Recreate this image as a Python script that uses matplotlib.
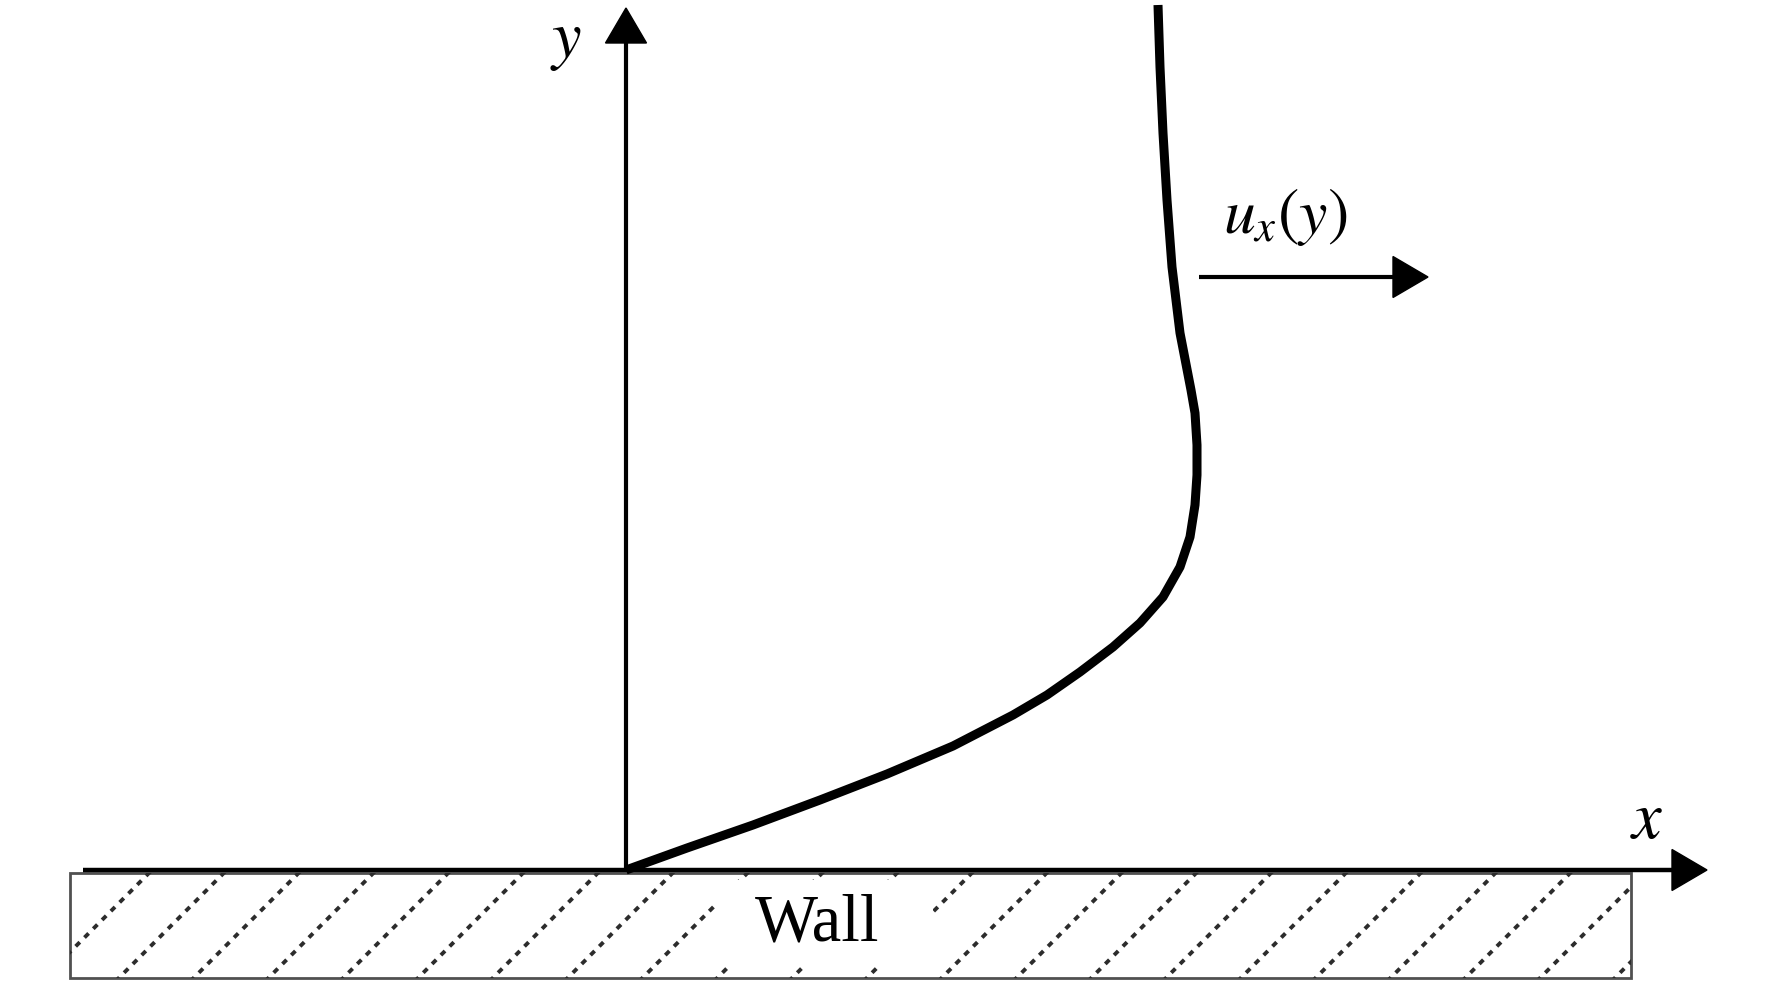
import matplotlib
matplotlib.use("Agg")
import matplotlib.pyplot as plt
from matplotlib.patches import Rectangle

plt.rcParams['mathtext.fontset'] = 'stix'

# ---- data: velocity profile u_x(y) (units: pixels relative to origin) ----
profile_y = [0, 22, 45, 70, 96, 124, 155, 175, 198, 223, 247, 273, 303, 333,
             365, 395, 425, 457, 480, 537, 603, 670, 737, 803, 865]
profile_u = [0, 61, 127, 194, 261, 327, 387, 421, 454, 487, 514, 537, 554, 564,
             569, 571, 571, 569, 565, 554, 546, 541, 537, 534, 532]

wall_label = "Wall"
x_label = r"$x$"
y_label = r"$y$"
u_label = r"$u_x(y)$"

# ---- layout ----
W, H = 1772, 982
ox, oy = 626, 870  # origin in image pixels
fig = plt.figure(figsize=(W / 100, H / 100), dpi=100)
ax = fig.add_axes([0, 0, 1, 1])
ax.set_xlim(-ox, W - ox)
ax.set_ylim(-(H - oy), oy)
ax.axis('off')

# wall rectangle
wall_left, wall_right = 70 - ox, 1631 - ox
wall_top, wall_bot = -3, -108
wall = Rectangle((wall_left, wall_bot), wall_right - wall_left, wall_top - wall_bot,
                 facecolor='white', edgecolor='#505050', linewidth=2.0, zorder=2)
ax.add_patch(wall)

# hatch lines (45 deg, dashed)
hatch_start, hatch_step = -477, 74.8
depth = wall_top - wall_bot
k = 0
while True:
    xt = hatch_start + k * hatch_step
    if xt - depth > wall_right:
        break
    ln, = ax.plot([xt + 10, xt - depth - 10], [wall_top + 10, wall_bot - 10],
                  color='#2c2c2c', linewidth=2.8, linestyle=(0, (1.5, 1.7)),
                  zorder=3, dash_capstyle='butt')
    ln.set_clip_path(wall)
    k += 1

# white box behind the label
ax.add_patch(Rectangle((715 - ox, -96), 218, 86, facecolor='white',
                       edgecolor='none', zorder=4))
ax.text(817.5 - ox, -70, wall_label, ha='center', va='baseline',
        fontfamily='Liberation Serif', fontsize=48, zorder=5)

# x axis
ax.plot([83 - ox, 1680 - ox], [0, 0], color='black', linewidth=3.2,
        solid_capstyle='butt', zorder=6)
ax.arrow(1660 - ox, 0, 1707 - 1660, 0, width=0.5, head_width=41, head_length=35,
         length_includes_head=True, color='black', zorder=6)

# y axis
ax.plot([0, 0], [-1, 835], color='black', linewidth=3.0,
        solid_capstyle='butt', zorder=6)
ax.arrow(0, 820, 0, 862 - 820, width=0.5, head_width=41, head_length=35,
         length_includes_head=True, color='black', zorder=6)

# velocity profile
ax.plot(profile_u, profile_y, color='black', linewidth=6.5,
        solid_joinstyle='round', solid_capstyle='butt', zorder=7)

# u_x(y) arrow
ax.plot([1199 - ox, 1400 - ox], [593, 593], color='black', linewidth=3.0,
        solid_capstyle='butt', zorder=6)
ax.arrow(1380 - ox, 593, 1428 - 1380, 0, width=0.5, head_width=41, head_length=35,
         length_includes_head=True, color='black', zorder=6)

# labels
ax.text(597, 637, u_label, ha='left', va='baseline', fontsize=46, zorder=8)
ax.text(-60, 830, y_label, ha='center', va='center', fontsize=48, zorder=8)
ax.text(1021, 51, x_label, ha='center', va='center', fontsize=48, zorder=8)

fig.savefig("out.png", dpi=100, facecolor='white')
